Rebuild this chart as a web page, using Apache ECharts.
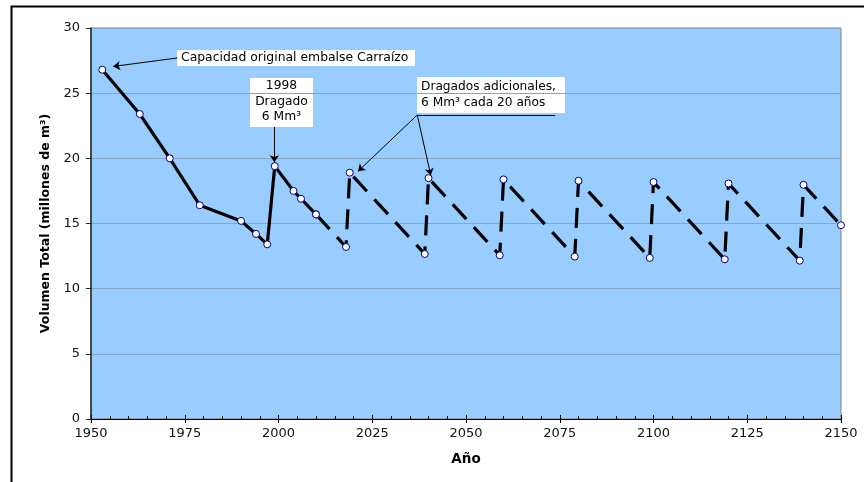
<!DOCTYPE html>
<html>
<head>
<meta charset="utf-8">
<script src="https://cdn.jsdelivr.net/npm/echarts/dist/echarts.min.js"></script>
<style>html,body{margin:0;padding:0;background:#fff;}#c{width:864px;height:482px;}</style>
</head>
<body>
<div id="c"></div>
<script>
// Historical / measured volumes (solid line)
const histYears = [1953, 1963, 1971, 1979, 1990, 1994, 1997, 1999, 2004, 2006, 2010];
const histValues = [26.8, 23.4, 20.0, 16.4, 15.2, 14.2, 13.4, 19.4, 17.5, 16.9, 15.7];
// Projection with dredging every 20 years (dashed line)
const projYears = [2010, 2018, 2019, 2039, 2040, 2059, 2060, 2079, 2080, 2099, 2100, 2119, 2120, 2139, 2140, 2150];
const projValues = [15.7, 13.2, 18.9, 12.66, 18.48, 12.56, 18.38, 12.46, 18.28, 12.36, 18.18, 12.25, 18.07, 12.15, 17.97, 14.87];
// Axis ticks
const xTicks = [1950, 1975, 2000, 2025, 2050, 2075, 2100, 2125, 2150];
const yTicks = [0, 5, 10, 15, 20, 25, 30];

const FONT = '"DejaVu Sans", sans-serif';
const chart = echarts.init(document.getElementById('c'), null, {renderer: 'canvas'});

const pairs = (xs, ys) => xs.map((x, i) => [x, ys[i]]);
const arrow = (from, to) => [
  {coord: from, symbol: 'none'},
  {coord: to, symbol: 'arrow', symbolSize: 7}
];
const plain = (from, to) => [
  {coord: from, symbol: 'none'},
  {coord: to, symbol: 'none'}
];

chart.setOption({
  animation: false,
  backgroundColor: '#fff',
  grid: {
    left: 91, right: 23, top: 28, bottom: 63,
    show: true, backgroundColor: '#99CCFF', borderColor: '#808080', borderWidth: 1
  },
  xAxis: [{
    type: 'value',
    min: xTicks[0], max: xTicks[xTicks.length - 1], interval: 25,
    name: 'Año', nameLocation: 'middle', nameGap: 33,
    nameTextStyle: {fontFamily: FONT, fontSize: 13.5, fontWeight: 'bold', color: '#000'},
    axisLine: {show: true, onZero: false, lineStyle: {color: '#000', width: 1}},
    axisTick: {show: true, inside: false, length: 4, lineStyle: {color: '#000'}},
    axisLabel: {fontFamily: FONT, fontSize: 13, color: '#111', margin: 8, formatter: v => String(v)},
    splitLine: {show: false}
  }, {
    type: 'value',
    min: xTicks[0], max: xTicks[xTicks.length - 1], interval: 25,
    position: 'bottom',
    axisLine: {show: false},
    axisTick: {show: true, inside: true, length: 4, lineStyle: {color: '#000'}},
    minorTick: {show: true, splitNumber: 5, length: 3, lineStyle: {color: '#000'}},
    axisLabel: {show: false},
    splitLine: {show: false}
  }],
  yAxis: {
    type: 'value',
    min: yTicks[0], max: yTicks[yTicks.length - 1], interval: 5,
    name: 'Volumen Total (millones de m³)', nameLocation: 'middle', nameGap: 38,
    nameTextStyle: {fontFamily: FONT, fontSize: 12.5, fontWeight: 'bold', color: '#000'},
    axisLine: {show: true, lineStyle: {color: '#222', width: 1.5}},
    axisTick: {show: true, inside: false, length: 5, lineStyle: {color: '#222'}},
    axisLabel: {fontFamily: FONT, fontSize: 13, color: '#111', margin: 11},
    splitLine: {show: true, lineStyle: {color: '#8aa4c4', width: 1}}
  },
  series: [{
    type: 'line',
    xAxisIndex: 0,
    data: pairs(histYears, histValues),
    symbol: 'circle', symbolSize: 7,
    lineStyle: {color: '#000', width: 3.2},
    itemStyle: {color: '#fff', borderColor: '#000080', borderWidth: 1},
    z: 3,
    markLine: {
      silent: true,
      label: {show: false},
      lineStyle: {color: '#000', width: 1, type: 'solid'},
      data: [
        arrow([1973.0, 27.7], [1955.9, 27.05]),
        arrow([1998.9, 22.4], [1998.9, 19.7])
      ]
    }
  }, {
    type: 'line',
    xAxisIndex: 0,
    data: pairs(projYears, projValues),
    symbol: 'circle', symbolSize: 7,
    lineStyle: {color: '#000', width: 3.2, type: [20, 11], cap: 'butt'},
    itemStyle: {color: '#fff', borderColor: '#000080', borderWidth: 1},
    z: 3,
    markLine: {
      silent: true,
      label: {show: false},
      lineStyle: {color: '#000', width: 1, type: 'solid'},
      data: [
        plain([2037.0, 23.33], [2073.8, 23.33]),
        arrow([2037.0, 23.33], [2021.2, 19.0]),
        arrow([2037.0, 23.33], [2040.6, 18.7])
      ]
    }
  }],
  graphic: [
    {type: 'rect', left: 9, top: 4, z: 100, silent: true,
     shape: {x: 0, y: 0, width: 1000, height: 1000},
     style: {fill: 'none', stroke: '#000', lineWidth: 2}},
    {type: 'group', left: 177, top: 50, z: 100, children: [
      {type: 'rect', shape: {x: 0, y: 0, width: 238, height: 16}, style: {fill: '#fff'}},
      {type: 'text', x: 4, y: 8, style: {text: 'Capacidad original embalse Carraízo',
        font: '12.4px ' + FONT, fill: '#000', verticalAlign: 'middle'}}
    ]},
    {type: 'group', left: 250, top: 78, z: 100, children: [
      {type: 'rect', shape: {x: 0, y: 0, width: 63, height: 49}, style: {fill: '#fff'}},
      {type: 'text', x: 31.5, y: 8, style: {text: '1998', font: '12.3px ' + FONT, fill: '#000', align: 'center', verticalAlign: 'middle'}},
      {type: 'text', x: 31.5, y: 23.5, style: {text: 'Dragado', font: '12.3px ' + FONT, fill: '#000', align: 'center', verticalAlign: 'middle'}},
      {type: 'text', x: 31.5, y: 39, style: {text: '6 Mm³', font: '12.3px ' + FONT, fill: '#000', align: 'center', verticalAlign: 'middle'}}
    ]},
    {type: 'group', left: 417, top: 77, z: 100, children: [
      {type: 'rect', shape: {x: 0, y: 0, width: 148, height: 36}, style: {fill: '#fff'}},
      {type: 'text', x: 4, y: 10, style: {text: 'Dragados adicionales,', font: '12.2px ' + FONT, fill: '#000', verticalAlign: 'middle'}},
      {type: 'text', x: 4, y: 25.5, style: {text: '6 Mm³ cada 20 años', font: '12.2px ' + FONT, fill: '#000', verticalAlign: 'middle'}}
    ]}
  ]
});
</script>
</body>
</html>
